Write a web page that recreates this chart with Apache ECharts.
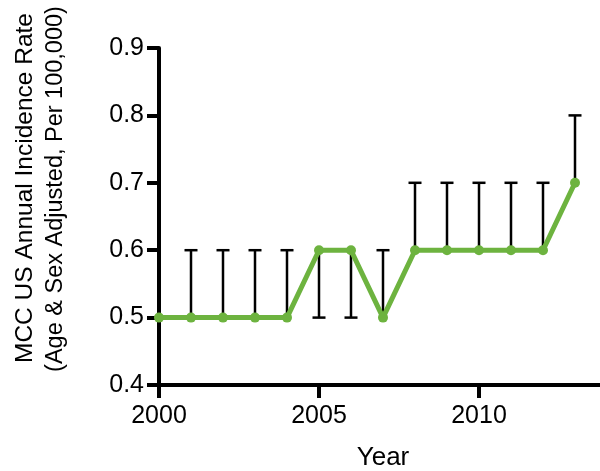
<!DOCTYPE html>
<html>
<head>
<meta charset="utf-8">
<script src="https://cdn.jsdelivr.net/npm/echarts@6/dist/echarts.min.js"></script>
<style>html,body{margin:0;padding:0;background:#fff;}#c{width:600px;height:471px;}</style>
</head>
<body>
<div id="c"></div>
<script>
const years = [2000,2001,2002,2003,2004,2005,2006,2007,2008,2009,2010,2011,2012,2013];
const rates = [0.5,0.5,0.5,0.5,0.5,0.6,0.6,0.5,0.6,0.6,0.6,0.6,0.6,0.7];
const errLow = [0.5,0.5,0.5,0.5,0.5,0.5,0.5,0.5,0.6,0.6,0.6,0.6,0.6,0.7];
const errHigh = [0.5,0.6,0.6,0.6,0.6,0.6,0.6,0.6,0.7,0.7,0.7,0.7,0.7,0.8];
const yTitle1 = 'MCC US Annual Incidence Rate';
const yTitle2 = '(Age & Sex Adjusted, Per 100,000)';
const xTitle = 'Year';

const FONT = '"Liberation Sans", Arial, Helvetica, sans-serif';
const chart = echarts.init(document.getElementById('c'), null, {renderer:'canvas'});

const lineData = years.map((y,i)=>[y, rates[i]]);
const errData = years.map((y,i)=>[y, errLow[i], errHigh[i], rates[i]]);

chart.setOption({
  animation:false,
  backgroundColor:'#fff',
  grid:{left:159, top:48, width:448, height:337, containLabel:false, outerBoundsMode:'none'},
  xAxis:{
    type:'value', min:2000, max:2014, interval:5,
    axisLine:{show:true, onZero:false, lineStyle:{color:'#000', width:4}},
    axisTick:{show:true, length:13, inside:false, lineStyle:{color:'#000', width:4}},
    axisLabel:{color:'#000', fontSize:25, fontFamily:FONT, margin:19, showMaxLabel:false,
      formatter:v=>String(v)},
    splitLine:{show:false},
    name:xTitle, nameLocation:'middle', nameGap:60,
    nameTextStyle:{color:'#000', fontSize:26, fontFamily:FONT}
  },
  yAxis:{
    type:'value', min:0.4, max:0.9, interval:0.1,
    axisLine:{show:true, onZero:false, lineStyle:{color:'#000', width:4}},
    axisTick:{show:true, length:12, lineStyle:{color:'#000', width:4}},
    axisLabel:{color:'#000', fontSize:25, fontFamily:FONT, margin:15,
      formatter:v=>v.toFixed(1)},
    splitLine:{show:false}
  },
  graphic:[
    {type:'text', x:25, y:188, rotation:Math.PI/2, style:{text:yTitle1, fill:'#000',
      font:'24.5px '+FONT, textAlign:'center', textVerticalAlign:'middle'}},
    {type:'text', x:56, y:189, rotation:Math.PI/2, style:{text:yTitle2, fill:'#000',
      font:'23.5px '+FONT, textAlign:'center', textVerticalAlign:'middle'}}
  ],
  series:[
    {
      type:'custom', z:1,
      data:errData,
      renderItem:function(params, api){
        const x = api.value(0);
        const lo = api.coord([x, api.value(1)]);
        const hi = api.coord([x, api.value(2)]);
        const v = api.value(3);
        const children = [];
        const st = {stroke:'#000', lineWidth:2.5};
        if (Math.abs(hi[1]-lo[1]) > 0.5) {
          children.push({type:'line', shape:{x1:lo[0], y1:lo[1], x2:hi[0], y2:hi[1]}, style:st});
        }
        const half = 6.5;
        if (api.value(2) > v + 1e-9) {
          children.push({type:'line', shape:{x1:hi[0]-half, y1:hi[1], x2:hi[0]+half, y2:hi[1]}, style:st});
        }
        if (api.value(1) < v - 1e-9) {
          children.push({type:'line', shape:{x1:lo[0]-half, y1:lo[1], x2:lo[0]+half, y2:lo[1]}, style:st});
        }
        return {type:'group', children:children};
      }
    },
    {
      type:'line', z:3,
      data:lineData,
      symbol:'circle', symbolSize:10,
      lineStyle:{color:'#6db33f', width:5},
      itemStyle:{color:'#6db33f'},
      clip:false
    }
  ]
});
</script>
</body>
</html>
